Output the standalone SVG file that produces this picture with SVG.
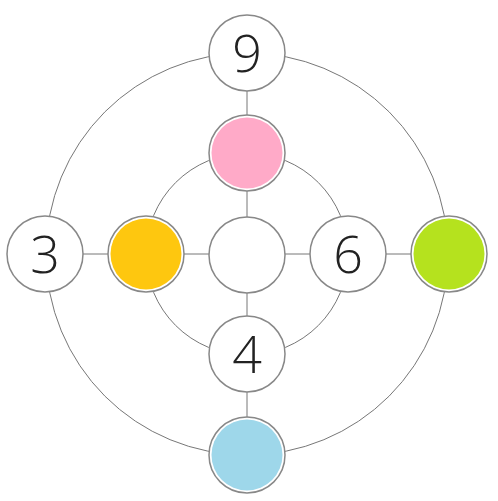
<svg xmlns="http://www.w3.org/2000/svg" width="498" height="501" viewBox="0 0 498 501">
<style>
.c{fill:none;stroke:#777;stroke-width:1}
.n{fill:#fff;stroke:#888;stroke-width:1.5}
.t{font-family:"Open Sans","Noto Sans",sans-serif;font-weight:300;font-size:52px;fill:#222;text-anchor:middle}
</style>
<rect width="498" height="501" fill="#fff"/>
<g id="connectors">
<circle class="c" cx="247" cy="254" r="201"/>
<circle class="c" cx="247" cy="254" r="101"/>
<line class="c" x1="45" y1="254" x2="449" y2="254"/>
<line class="c" x1="247" y1="53" x2="247" y2="455"/>
</g>
<g id="n9"><circle class="n" cx="247" cy="53" r="38"/><text class="t" x="247" y="72">9</text></g>
<g id="pink"><circle class="n" cx="247" cy="153" r="38"/><circle cx="247" cy="153" r="35.5" fill="#ffaac8"/></g>
<g id="n3"><circle class="n" cx="45" cy="254" r="38"/><text class="t" x="45" y="273">3</text></g>
<g id="orange"><circle class="n" cx="146" cy="254" r="38"/><circle cx="146" cy="254" r="35.5" fill="#fec70f"/></g>
<g id="center"><circle class="n" cx="247" cy="255" r="38"/></g>
<g id="n6"><circle class="n" cx="348" cy="254" r="38"/><text class="t" x="348" y="273">6</text></g>
<g id="green"><circle class="n" cx="449" cy="254" r="38"/><circle cx="449" cy="254" r="35.5" fill="#b5e21e"/></g>
<g id="n4"><circle class="n" cx="247" cy="354" r="38"/><text class="t" x="247" y="373">4</text></g>
<g id="blue"><circle class="n" cx="247" cy="455" r="38"/><circle cx="247" cy="455" r="35.5" fill="#9ed7ea"/></g>
</svg>
